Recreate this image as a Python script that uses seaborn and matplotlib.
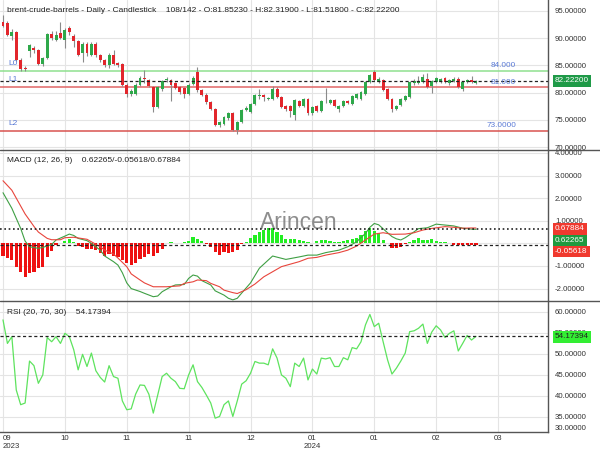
import numpy as np
import pandas as pd
import matplotlib
matplotlib.use("Agg")
import matplotlib.pyplot as plt
import matplotlib.transforms as mtransforms
from matplotlib.lines import Line2D
import seaborn as sns

# ---------------- data ----------------
opens = [93.0, 92.7, 90.4, 91.2, 86.0, 84.5, 87.6, 88.2, 87.8, 85.3,
         86.3, 90.8, 89.6, 91.0, 89.6, 91.9, 90.4, 89.45, 87.2, 89.0,
         87.0, 89.0, 86.9, 86.0, 85.0, 87.0, 85.4, 85.3, 81.5, 79.7,
         79.8, 81.5, 82.7, 82.3, 81.1, 77.4, 80.6, 82.3, 82.3, 81.7,
         81.1, 80.9, 79.8, 81.6, 83.8, 80.45, 79.65, 78.3, 77.0, 74.15,
         74.3, 75.3, 76.3, 73.1, 74.65, 76.8, 76.5, 78.0, 79.45, 79.5,
         78.8, 78.8, 80.75, 79.2, 77.6, 77.5, 75.9, 78.5, 77.6, 78.8,
         76.2, 77.6, 76.7, 78.4, 78.2, 78.6, 77.1, 77.6, 78.5, 77.9,
         79.1, 78.8, 79.8, 81.9, 83.8, 81.9, 82.3, 80.6, 78.8, 77.0,
         77.8, 78.6, 79.2, 81.8, 81.8, 82.0, 82.6, 81.25, 82.0, 81.9,
         82.7, 81.7, 82.1, 82.6, 80.7, 81.9, 82.4, 81.8523]
highs = [94.3, 93.2, 91.6, 91.4, 86.3, 84.9, 89.0, 88.6, 88.1, 86.6,
         91.0, 91.3, 91.3, 93.0, 91.8, 92.3, 90.7, 89.7, 89.3, 89.3,
         89.3, 89.3, 87.1, 86.2, 87.2, 87.9, 85.7, 85.5, 81.7, 80.6,
         81.7, 83.0, 84.1, 82.5, 81.3, 81.3, 82.3, 82.9, 82.6, 81.9,
         81.3, 81.1, 81.7, 83.0, 84.7, 80.7, 79.9, 78.5, 77.2, 74.9,
         75.8, 76.5, 76.5, 74.9, 77.0, 77.6, 78.2, 79.7, 80.6, 79.7,
         79.3, 81.2, 81.0, 79.4, 77.8, 77.7, 78.8, 78.7, 79.0, 79.0,
         77.6, 77.8, 78.7, 80.9, 78.9, 78.8, 77.8, 78.7, 78.7, 79.6,
         79.9, 80.3, 82.1, 83.4, 84.1, 82.8, 82.5, 80.8, 79.0, 77.8,
         79.0, 79.6, 82.1, 82.6, 83.0, 83.4, 83.6, 82.3, 82.9, 82.7,
         82.9, 82.5, 82.8, 82.8, 82.1, 82.5, 83.0, 82.319]
lows = [92.0, 90.4, 89.6, 85.8, 84.0, 83.9, 86.6, 87.3, 85.0, 84.9,
        86.1, 89.6, 89.4, 89.8, 88.2, 90.6, 88.4, 86.7, 85.65, 86.8,
        86.7, 86.6, 85.7, 84.7, 84.6, 85.0, 84.8, 81.3, 79.3, 79.4,
        79.6, 81.3, 81.7, 81.0, 76.5, 77.2, 80.4, 82.0, 78.4, 80.6,
        79.8, 79.0, 79.6, 81.4, 80.2, 79.4, 78.0, 76.8, 73.9, 73.7,
        74.1, 75.0, 72.9, 72.5, 74.5, 76.6, 76.3, 77.8, 78.9, 78.4,
        78.6, 78.6, 79.0, 77.2, 76.6, 75.5, 74.95, 77.3, 77.4, 76.0,
        76.0, 76.5, 76.5, 78.2, 78.0, 77.4, 76.5, 77.4, 78.0, 77.7,
        78.9, 78.6, 79.6, 81.7, 82.1, 81.7, 80.3, 78.6, 76.5, 76.8,
        77.6, 78.4, 79.0, 81.5, 81.6, 81.8, 80.9, 80.0, 81.8, 81.7,
        81.7, 81.5, 81.9, 80.8, 80.3, 81.7, 81.8, 81.518]
closes = [92.3, 90.6, 91.2, 86.0, 84.4, 84.3, 88.7, 87.8, 85.3, 86.3,
          90.8, 90.05, 90.65, 90.05, 91.45, 91.15, 89.45, 87.0, 89.0, 87.2,
          89.0, 86.9, 86.0, 85.0, 87.0, 85.3, 85.1, 81.5, 79.7, 80.3,
          81.5, 82.7, 82.5, 81.25, 77.4, 81.1, 82.1, 82.6, 81.5, 80.9,
          80.1, 79.8, 81.5, 82.7, 80.45, 79.65, 78.3, 77.0, 74.15, 74.65,
          75.6, 76.3, 73.1, 74.65, 76.8, 77.2, 78.0, 79.5, 79.55, 79.2,
          79.0, 80.75, 79.2, 77.4, 77.0, 76.6, 78.6, 77.6, 78.8, 76.2,
          77.4, 76.7, 78.5, 78.5, 78.7, 77.6, 77.6, 78.5, 78.2, 79.4,
          79.7, 80.1, 81.9, 83.2, 82.3, 82.6, 80.5, 78.8, 77.1, 77.6,
          78.8, 79.4, 81.9, 82.2, 82.2, 82.9, 81.1, 82.1, 82.7, 82.5,
          81.9, 82.3, 82.6, 81.0, 81.9, 82.3, 82.0, 82.222]

level_values = [84.0, 81.0, 73.0]
level_names = ["L0", "L1", "L2"]
level_texts = ["84.000", "81.000", "73.0000"]

macd_idx = [0, 2, 4, 5, 6, 8, 9, 11, 12, 14, 15, 16, 17, 19, 20, 22, 23, 25, 26, 27,
            28, 29, 31, 32, 34, 35, 36, 38, 39, 41, 42, 43, 44, 45, 47, 48, 50, 51, 52, 53,
            54, 56, 58, 61, 64, 67, 69, 71, 73, 76, 78, 80, 82, 83, 84, 85, 87, 88, 89, 90,
            91, 93, 94, 96, 98, 100, 102, 104, 106, 107]
macd_vals = [2.24, 1.55, 0.66, 0.1, -0.15, -0.22, -0.18, -0.05, 0.15, 0.32, 0.41, 0.35, 0.22, 0.12, 0.0,
             -0.3, -0.56, -0.81, -0.96, -1.3, -1.75, -2.0, -2.13, -2.21, -2.36, -2.33, -2.14, -1.92,
             -1.84, -1.82, -1.55, -1.4, -1.45, -1.65, -1.84, -2.1, -2.29, -2.43, -2.5, -2.43, -2.2,
             -1.75, -1.1, -0.56, -0.71, -0.6, -0.52, -0.52, -0.41, -0.3, -0.15, 0.07, 0.44, 0.71,
             0.88, 0.82, 0.47, 0.3, 0.2, 0.15, 0.25, 0.51, 0.65, 0.69, 0.85, 0.81, 0.77, 0.67,
             0.63, 0.62265]
signal_idx = [0, 2, 4, 5, 7, 8, 10, 11, 13, 14, 16, 17, 19, 20, 22, 23, 25, 26, 28, 29,
              31, 32, 34, 37, 40, 41, 43, 44, 46, 47, 49, 50, 52, 53, 55, 57, 59, 63, 67, 69,
              71, 73, 76, 78, 80, 82, 84, 86, 88, 91, 93, 95, 97, 100, 102, 104, 106, 107]
signal_vals = [2.77, 2.35, 1.65, 1.3, 0.75, 0.5, 0.22, 0.16, 0.16, 0.25, 0.27, 0.24, 0.18, 0.07,
               -0.15, -0.3, -0.47, -0.65, -1.03, -1.35, -1.62, -1.75, -1.92, -1.92, -1.88, -1.77,
               -1.7, -1.62, -1.65, -1.77, -1.92, -2.07, -2.18, -2.22, -2.05, -1.8, -1.48, -1.03,
               -0.81, -0.66, -0.62, -0.52, -0.41, -0.3, -0.12, 0.15, 0.41, 0.47, 0.4, 0.41, 0.47,
               0.59, 0.66, 0.74, 0.71, 0.67, 0.68, 0.67884]
hist_vals = [-0.56, -0.66, -0.74, -1.06, -1.26, -1.5, -1.33, -1.26, -1.11, -1.06, -0.59, -0.33, -0.08,
             0.02, 0.12, 0.18, 0.07,
             -0.12, -0.15, -0.27, -0.24, -0.3, -0.44, -0.56, -0.47, -0.56, -0.59, -0.74, -0.88, -0.96,
             -0.86, -0.71, -0.59, -0.47, -0.56, -0.41, -0.24,
             0.03, 0.06, 0.03, 0.03, 0.06, 0.12, 0.27, 0.2, 0.09,
             -0.03, -0.18, -0.37, -0.52, -0.37, -0.41, -0.37, -0.3, -0.05,
             0.06, 0.22, 0.37, 0.51, 0.6, 0.66, 0.66, 0.51, 0.37, 0.18, 0.18, 0.18,
             0.15, 0.12, 0.07, 0.03, 0.12, 0.15, 0.15, 0.1, 0.07, 0.07, 0.12, 0.15, 0.18, 0.22, 0.37,
             0.56, 0.66, 0.56, 0.44, 0.15, 0.02,
             -0.22, -0.22, -0.18, -0.03,
             0.07, 0.15, 0.22, 0.15, 0.15, 0.18, 0.12, 0.07, 0.07, 0.03,
             -0.06, -0.08, -0.07, -0.06, -0.06, -0.05618]
rsi_vals = [58.1, 52.5, 54.1, 41.4, 37.9, 38.3, 48.3, 47.2, 43.0, 45.0,
            53.9, 52.9, 54.1, 52.5, 54.9, 54.1, 51.0, 46.2, 49.9, 47.0,
            50.2, 46.0, 44.4, 43.3, 47.2, 44.6, 44.2, 38.8, 36.7, 36.9,
            40.4, 42.6, 42.5, 40.4, 35.9, 40.2, 44.6, 45.4, 44.2, 43.4,
            41.8, 41.7, 45.0, 47.4, 43.4, 42.0, 40.2, 38.3, 34.7, 35.1,
            37.9, 38.8, 35.1, 38.8, 42.8, 43.6, 45.4, 48.2, 47.8, 47.8,
            47.4, 51.2, 49.0, 45.0, 44.2, 42.2, 47.8, 47.0, 49.0, 43.8,
            46.4, 45.2, 49.0, 48.8, 49.1, 47.0, 47.0, 49.1, 48.6, 51.5,
            51.2, 52.9, 56.9, 59.4, 56.5, 57.3, 52.9, 48.6, 45.2, 46.6,
            48.3, 50.2, 55.3, 55.5, 56.1, 57.1, 52.5, 55.2, 56.7, 55.7,
            53.9, 54.9, 55.5, 50.7, 52.5, 54.4, 53.3, 54.17394]

x_tick_idx = [0, 14, 28, 42, 56, 70, 84, 98, 112]
x_tick_labels = ["09\n2023", "10", "11", "11", "12", "01\n2024", "01", "02", "03"]
price_ticks = [95, 90, 85, 80, 75, 70]
macd_ticks = [4, 3, 2, 1, 0, -1, -2]
macd_tick_labels = ["4.00000", "3.00000", "2.00000", "1.00000", "", "-1.00000", "-2.00000"]
rsi_ticks = [60, 55, 50, 45, 40, 35]

title_text = ("brent-crude-barrels - Daily - Candlestick    108/142 - O:81.85230 - "
              "H:82.31900 - L:81.51800 - C:82.22200")
macd_title = "MACD (12, 26, 9)    0.62265/-0.05618/0.67884"
rsi_title = "RSI (20, 70, 30)    54.17394"

# ---------------- style ----------------
sns.set_style("white")
plt.rcParams['font.family'] = ['Liberation Sans', 'DejaVu Sans']
FS = 5.6
GREEN = '#2ea84a'
RED = '#e2262c'
GRID = '#e4e4e4'
AXC = '#555555'
BLUE = '#5a7ad6'

fig = plt.figure(figsize=(6, 4.5), dpi=100)
W, H = 600.0, 450.0


def rect(x0, y0, x1, y1):
    return [x0 / W, 1 - y1 / H, (x1 - x0) / W, (y1 - y0) / H]


ax_p = fig.add_axes(rect(0, 0, 548, 150))
ax_m = fig.add_axes(rect(0, 150, 548, 301), sharex=ax_p)
ax_r = fig.add_axes(rect(0, 301, 548, 432), sharex=ax_p)

O = np.array(opens); Hh = np.array(highs); L = np.array(lows); C = np.array(closes)
idx = np.arange(len(C))

for ax in (ax_p, ax_m, ax_r):
    ax.set_facecolor('white')
    ax.yaxis.tick_right()
    ax.tick_params(axis='y', length=0, pad=5, labelsize=FS, labelcolor='#333333')
    ax.tick_params(axis='x', length=0, pad=2, labelsize=FS, labelcolor='#333333')
    ax.set_xticks(x_tick_idx)
    ax.grid(True, color=GRID, lw=0.8, zorder=0)
    ax.set_axisbelow(True)
    for s in ('top', 'left', 'bottom'):
        ax.spines[s].set_visible(False)
    ax.spines['right'].set_color(AXC)
    ax.spines['right'].set_linewidth(1.0)
ax_r.spines['bottom'].set_visible(True)
ax_r.spines['bottom'].set_color(AXC)
ax_r.spines['bottom'].set_linewidth(1.0)
ax_p.tick_params(labelbottom=False)
ax_m.tick_params(labelbottom=False)
ax_p.set_xlim(-0.68, 123.3)

# ---------------- price panel ----------------
ax_p.set_ylim(69.5, 97.0)
ax_p.set_yticks(price_ticks)
ax_p.set_yticklabels([f"{v:.5f}" for v in price_ticks])

ax_p.vlines(idx, L, Hh, color='#8a8a8a', lw=0.8, zorder=3)
body_h = np.maximum(np.abs(C - O), 0.07)
ax_p.bar(idx, body_h, bottom=np.minimum(O, C), width=0.66,
         color=np.where(C >= O, GREEN, RED), linewidth=0, zorder=4)

level_colors = ['#8fe08f', '#e06666', '#d9534f']
blend = mtransforms.blended_transform_factory(ax_p.transAxes, ax_p.transData)
for v, nm, tx, col in zip(level_values, level_names, level_texts, level_colors):
    ax_p.axhline(v, color=col, lw=1.1, zorder=2)
    ax_p.text(8 / 548, v + 0.75, nm, transform=blend, fontsize=6, color=BLUE,
              va='bottom', ha='left', zorder=6)
    ax_p.text(516 / 548, v + 0.3, tx, transform=blend, fontsize=FS + 0.3, color=BLUE,
              va='bottom', ha='right', zorder=6)
ax_p.axhline(C[-1], color='#222222', lw=0.9, ls=(0, (2.5, 2)), zorder=5)
ax_p.text(7 / 548, 1 - 10 / 150, title_text, transform=ax_p.transAxes, fontsize=FS + 0.4,
          color='#222222', va='center', ha='left')

# ---------------- MACD panel ----------------
ax_m.set_ylim(-2.55, 4.13)
ax_m.set_yticks(macd_ticks)
ax_m.set_yticklabels(macd_tick_labels)
hv = np.array(hist_vals)
ax_m.bar(idx, hv, width=0.72, color=np.where(hv >= 0, '#22ee22', '#ee1111'),
         linewidth=0, zorder=3)
mdf = pd.DataFrame({'i': macd_idx, 'v': macd_vals})
sdf = pd.DataFrame({'i': signal_idx, 'v': signal_vals})
sns.lineplot(data=mdf, x='i', y='v', ax=ax_m, color='#3f9f44', lw=0.8, zorder=4)
sns.lineplot(data=sdf, x='i', y='v', ax=ax_m, color='#e8453c', lw=0.8, zorder=4)
ax_m.axhline(macd_vals[-1], color='#222222', lw=1.2, ls=(0, (1, 1.6)), zorder=5)
ax_m.axhline(hist_vals[-1], color='#222222', lw=0.9, ls=(0, (2.5, 2)), zorder=5)
ax_m.text(7 / 548, 1 - 11 / 151, macd_title, transform=ax_m.transAxes, fontsize=FS + 0.4,
          color='#222222', va='center', ha='left')
ax_m.text(299 / W, 1 - 222 / H, "Arincen", transform=fig.transFigure, fontsize=16.5,
          color='#7a7a7a', alpha=0.85, ha='center', va='center', zorder=1)
ax_m.set_xlabel(''); ax_m.set_ylabel('')

# ---------------- RSI panel ----------------
ax_r.set_ylim(31.4, 62.6)
ax_r.set_yticks(rsi_ticks)
ax_r.set_yticklabels([f"{v:.5f}" for v in rsi_ticks])
rdf = pd.DataFrame({'i': idx, 'v': rsi_vals})
sns.lineplot(data=rdf, x='i', y='v', ax=ax_r, color='#5ee35e', lw=0.9, zorder=4)
ax_r.axhline(rsi_vals[-1], color='#222222', lw=0.9, ls=(0, (2.5, 2)), zorder=5)
ax_r.text(7 / 548, 1 - 11 / 131, rsi_title, transform=ax_r.transAxes, fontsize=FS + 0.4,
          color='#222222', va='center', ha='left')
ax_r.set_xticklabels(x_tick_labels)
ax_r.get_xticklabels()[0].set_ha('left')
ax_r.set_xlabel(''); ax_r.set_ylabel('')
ax_p.set_xlabel(''); ax_p.set_ylabel('')
fig.text(555 / W, 1 - 429 / H, f"{30:.5f}", fontsize=FS, color='#333333', va='center', ha='left')

# ---------------- separators ----------------
for yy in (150, 301):
    fig.add_artist(Line2D([0, 1], [1 - yy / H, 1 - yy / H], transform=fig.transFigure,
                          color=AXC, lw=1.0))

# ---------------- value boxes ----------------
def vbox(y, txt, fc, tc='white'):
    fig.text(555 / W, 1 - y / H, txt, fontsize=FS + 0.3, color=tc, va='center', ha='left',
             zorder=20, bbox=dict(boxstyle='square,pad=0.25', fc=fc, ec='none'))

vbox(81, f"{closes[-1]:.5f}", '#1f9a48')
vbox(229, f"{signal_vals[-1]:.5f}", '#f0392e')
vbox(240.5, f"{macd_vals[-1]:.5f}", '#1f9a3f')
vbox(251.5, f"{hist_vals[-1]:.5f}", '#f0392e')
vbox(337, f"{rsi_vals[-1]:.5f}", '#33ee33', tc='#222222')

fig.savefig("out.png", dpi=100)
